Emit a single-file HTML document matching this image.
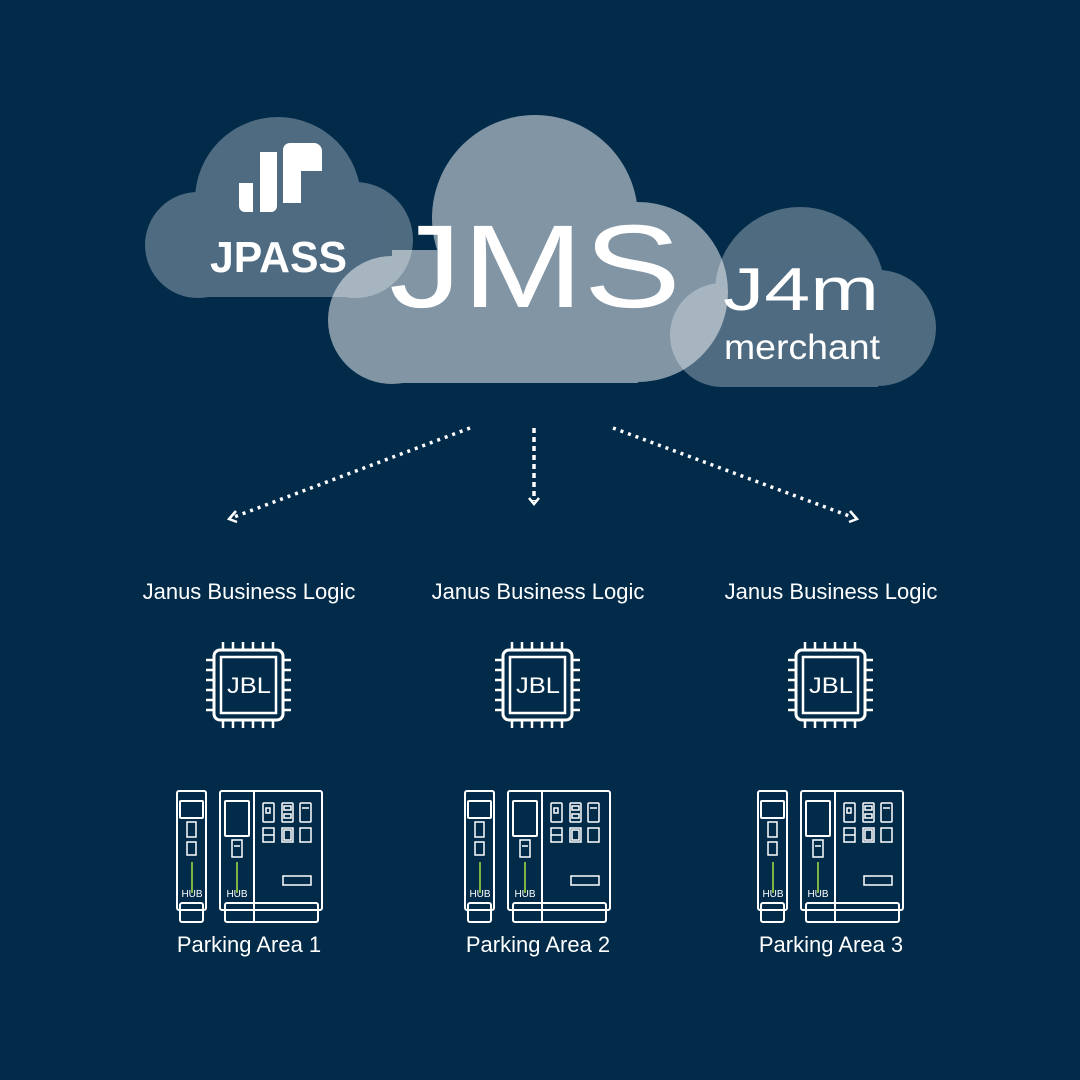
<!DOCTYPE html>
<html><head><meta charset="utf-8"><style>
html,body{margin:0;padding:0;background:#022b4a;}
svg{display:block}
text{font-family:"Liberation Sans",sans-serif;fill:#fff}
</style></head><body>
<svg width="1080" height="1080" viewBox="0 0 1080 1080" xmlns="http://www.w3.org/2000/svg">
<rect width="1080" height="1080" fill="#022b4a"/>
<g fill="#fff" opacity="0.3">
 <circle cx="278" cy="200" r="83"/>
 <circle cx="198" cy="245" r="53"/>
 <circle cx="355" cy="240" r="58"/>
 <rect x="198" y="200" width="160" height="97"/>
</g>
<g fill="#fff" opacity="0.3">
 <circle cx="800" cy="292" r="85"/>
 <circle cx="878" cy="328" r="58"/>
 <circle cx="722" cy="335" r="52"/>
 <rect x="722" y="300" width="156" height="87"/>
</g>
<g fill="#fff" opacity="0.5">
 <circle cx="535" cy="218" r="103"/>
 <circle cx="392" cy="320" r="64"/>
 <circle cx="638" cy="292" r="90"/>
 <rect x="392" y="250" width="246" height="133"/>
</g>
<path d="M239 183 h14 v29 h-8 a6 6 0 0 1 -6 -6 z" fill="#fff"/>
<path d="M260 152 h17 v54 a6 6 0 0 1 -6 6 h-11 z" fill="#fff"/>
<path d="M283 150 a7 7 0 0 1 7 -7 h24 a8 8 0 0 1 8 8 v20 h-21 v32 h-18 z" fill="#fff"/>
<text x="210" y="272" font-size="44" font-weight="bold" textLength="137" lengthAdjust="spacingAndGlyphs">JPASS</text>
<text x="389" y="307" font-size="118" textLength="292" lengthAdjust="spacingAndGlyphs">JMS</text>
<text x="723" y="310" font-size="60" textLength="156" lengthAdjust="spacingAndGlyphs">J4m</text>
<text x="724" y="359" font-size="35" textLength="156" lengthAdjust="spacingAndGlyphs">merchant</text>
<g stroke="#fff" stroke-width="3.5" fill="none">
 <line x1="470" y1="428" x2="234" y2="517" stroke-dasharray="3 5"/>
 <path d="M236 511 L229 519 L237 522" stroke-width="2.5"/>
 <line x1="534" y1="428" x2="534" y2="501" stroke-dasharray="5 4"/>
 <path d="M529 498 L534 504 L539 498" stroke-width="2.5"/>
 <line x1="613" y1="428" x2="852" y2="517" stroke-dasharray="3 5"/>
 <path d="M850 511 L857 519 L849 522" stroke-width="2.5"/>
</g>
<g font-size="22" text-anchor="middle">
 <text x="249" y="599">Janus Business Logic</text>
 <text x="538" y="599">Janus Business Logic</text>
 <text x="831" y="599">Janus Business Logic</text>
 <text x="249" y="952">Parking Area 1</text>
 <text x="538" y="952">Parking Area 2</text>
 <text x="831" y="952">Parking Area 3</text>
</g>
<defs>
 <g id="chip" stroke="#fff" fill="none" stroke-width="3">
  <rect x="503" y="650" width="69" height="70" rx="6"/>
  <rect x="510" y="657" width="55" height="56" stroke-width="2.5"/>
  <path d="M512 642v8M522 642v8M532 642v8M542 642v8M552 642v8M562 642v8
           M512 720v8M522 720v8M532 720v8M542 720v8M552 720v8M562 720v8
           M495 660h8M495 670h8M495 680h8M495 690h8M495 700h8M495 710h8
           M572 660h8M572 670h8M572 680h8M572 690h8M572 700h8M572 710h8" stroke-width="2.5"/>
 </g>
 <g id="kiosk" fill="none" stroke="#fff" stroke-width="2">
  <rect x="465" y="791" width="29" height="119" rx="2"/>
  <rect x="468" y="903" width="23" height="19" rx="2"/>
  <rect x="468" y="801" width="23" height="17" rx="1"/>
  <rect x="475" y="822" width="9" height="15" stroke-width="1.5"/>
  <rect x="475" y="842" width="9" height="13" stroke-width="1.5"/>
  <rect x="508" y="791" width="102" height="119" rx="2"/>
  <line x1="542" y1="791" x2="542" y2="922"/>
  <rect x="513" y="903" width="93" height="19" rx="2"/>
  <rect x="513" y="801" width="24" height="35" rx="1"/>
  <rect x="520" y="840" width="10" height="17" stroke-width="1.5"/>
  <line x1="522" y1="846" x2="528" y2="846" stroke-width="1.5"/>
  <g stroke-width="1.5">
   <rect x="551" y="803" width="11" height="19" rx="1"/><rect x="554" y="808" width="4" height="5"/>
   <rect x="570" y="803" width="11" height="19" rx="1"/><rect x="572" y="806" width="7" height="4"/><rect x="572" y="814" width="7" height="4"/>
   <rect x="588" y="803" width="11" height="19" rx="1"/><line x1="590" y1="808" x2="597" y2="808"/>
   <rect x="551" y="828" width="11" height="14"/><line x1="551" y1="835" x2="562" y2="835"/>
   <rect x="570" y="828" width="11" height="14"/><rect x="572" y="830" width="7" height="10"/>
   <rect x="588" y="828" width="11" height="14"/>
  </g>
  <rect x="571" y="876" width="28" height="9" stroke-width="1.5"/>
  <line x1="480" y1="862" x2="480" y2="893" stroke="#7cb342"/>
  <line x1="525" y1="862" x2="525" y2="893" stroke="#7cb342"/>
 </g>
</defs>
<use href="#chip" transform="translate(-289 0)"/>
<use href="#chip"/>
<use href="#chip" transform="translate(293 0)"/>
<use href="#kiosk" transform="translate(-288 0)"/>
<use href="#kiosk"/>
<use href="#kiosk" transform="translate(293 0)"/>
<g font-size="22" text-anchor="middle">
 <text x="249" y="693" textLength="44" lengthAdjust="spacingAndGlyphs">JBL</text>
 <text x="538" y="693" textLength="44" lengthAdjust="spacingAndGlyphs">JBL</text>
 <text x="831" y="693" textLength="44" lengthAdjust="spacingAndGlyphs">JBL</text>
</g>
<g font-size="10" text-anchor="middle">
 <text x="192" y="897">HUB</text><text x="237" y="897">HUB</text>
 <text x="480" y="897">HUB</text><text x="525" y="897">HUB</text>
 <text x="773" y="897">HUB</text><text x="818" y="897">HUB</text>
</g>
</svg>
</body></html>
